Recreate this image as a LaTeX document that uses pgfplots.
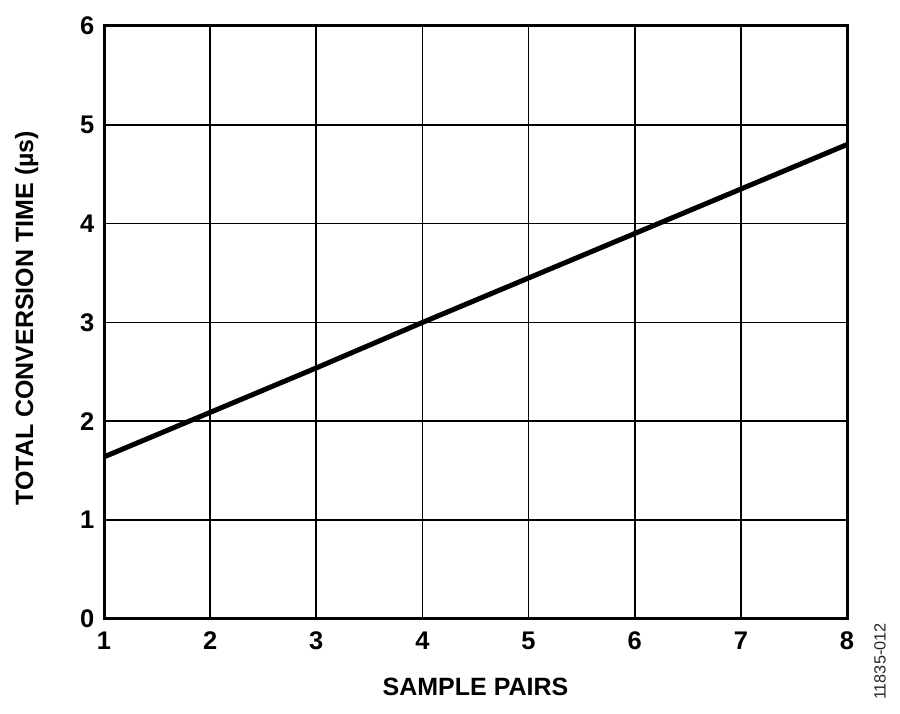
\documentclass[border=0pt]{standalone}
\usepackage{fontspec}
\setmainfont{Liberation Sans}
\usepackage{pgfplots}
\pgfplotsset{compat=1.18}
\begin{document}
\begin{tikzpicture}
\begin{axis}[
  scale only axis,
  width=297.2pt, height=237.2pt,
  xmin=1, xmax=8, ymin=0, ymax=6,
  xtick={1,...,8}, ytick={0,...,6},
  major tick length=0pt,
  grid=major,
  major grid style={black, line width=0.65pt},
  axis line style={black, line width=1.2pt},
  /pgf/number format/assume math mode=true,
  tick label style={font=\fontsize{10.2}{12}\selectfont\bfseries},
  xticklabel style={yshift=-1.6pt},
  yticklabel style={xshift=-0.4pt},
  label style={font=\fontsize{10}{12}\selectfont\bfseries},
  xlabel={SAMPLE PAIRS},
  ylabel={TOTAL CONVERSION TIME (µs)},
  xlabel style={at={(axis description cs:0.5,-0.115)}, anchor=center},
  ylabel style={at={(axis description cs:-0.104,0.507)}, anchor=center, rotate=0},
  clip=false,
]
\addplot[black, line width=2pt] coordinates {
(1,1.64) (2,2.09) (3,2.54) (4,3.0) (5,3.45) (6,3.9) (7,4.35) (8,4.8)
};
\node[rotate=90, font=\fontsize{6.5}{7}\selectfont, text=black!85] at (rel axis cs:1.0444,-0.072) {11835-012};
\path (rel axis cs:-0.140,-0.1602) rectangle (rel axis cs:1.0713,1.0438);
\end{axis}
\end{tikzpicture}
\end{document}
